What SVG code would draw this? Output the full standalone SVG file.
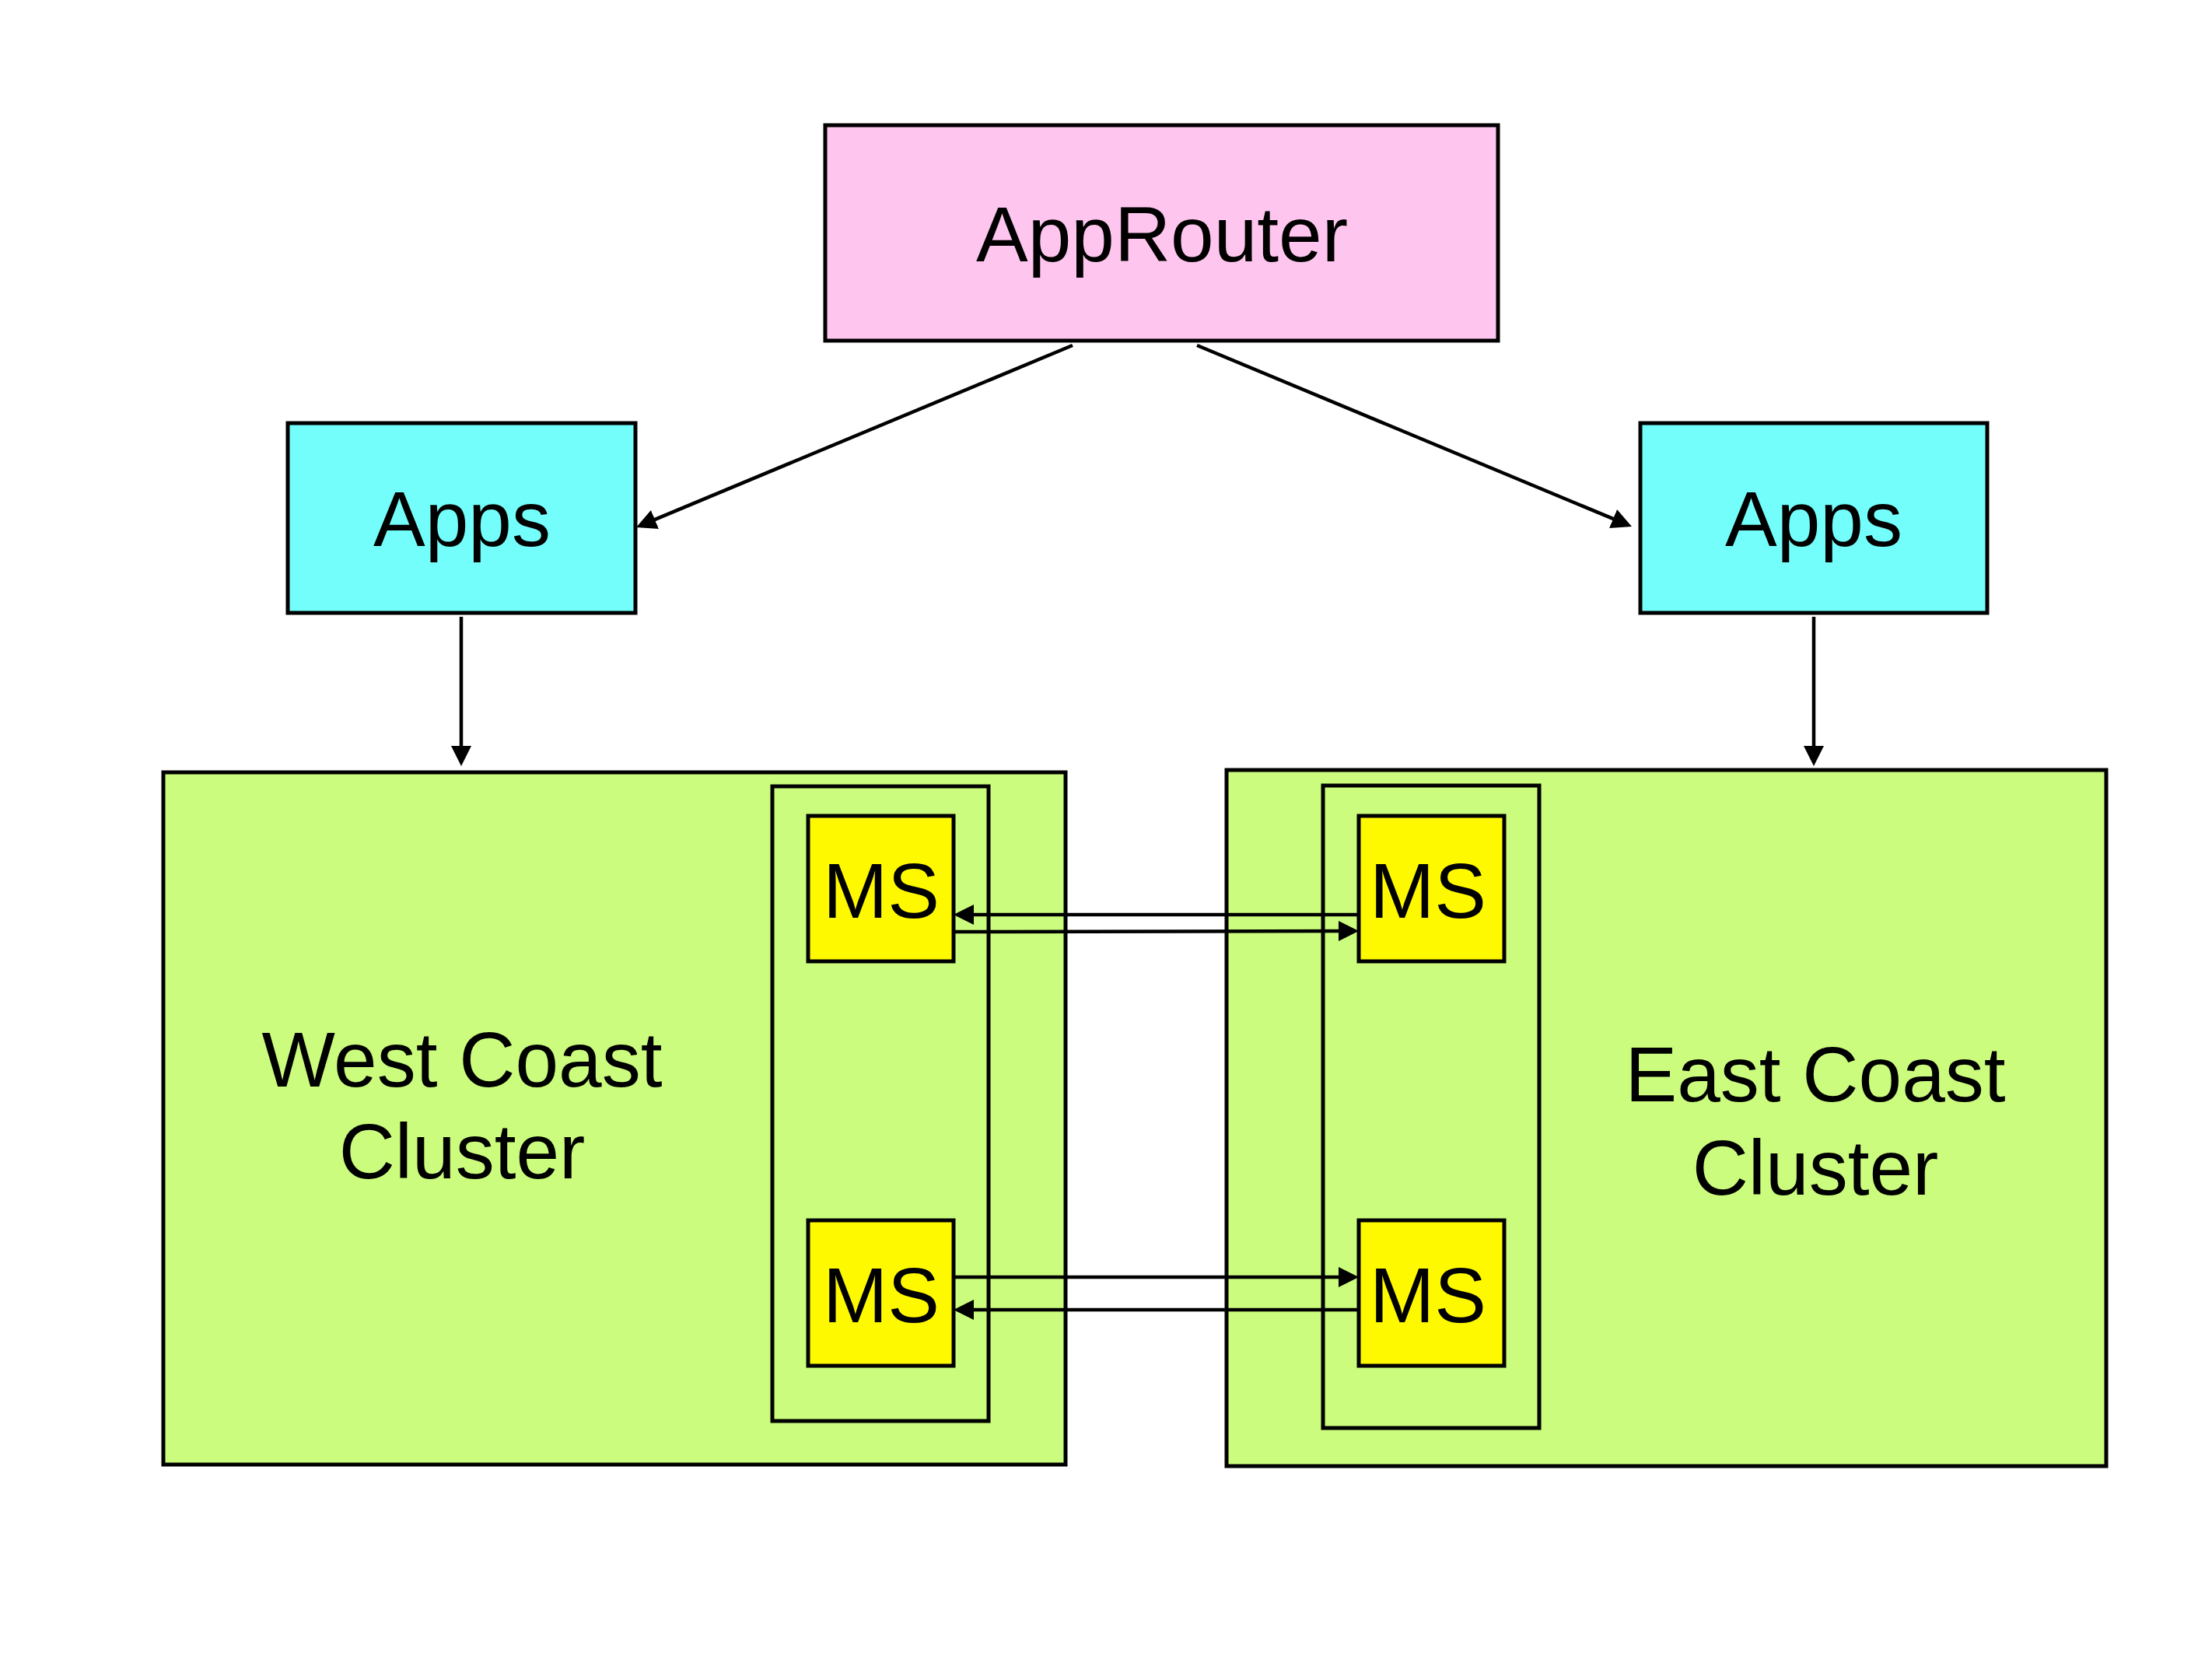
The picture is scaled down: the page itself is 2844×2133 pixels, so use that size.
<svg xmlns="http://www.w3.org/2000/svg" width="2844" height="2133" viewBox="0 0 2844 2133">
<style>
.box{stroke:#000;stroke-width:5}
.router{fill:#FEC6EE}
.apps{fill:#74FEFB}
.cluster{fill:#CBFC7D}
.ms{fill:#FFF900}
.lbl{font-family:"Liberation Sans",Arial,sans-serif;font-size:100px;fill:#000;text-anchor:middle}
.conn{stroke:#000;stroke-width:4.5;fill:none;marker-end:url(#arr)}
</style>
<defs>
<marker id="arr" markerUnits="userSpaceOnUse" markerWidth="26" markerHeight="26" viewBox="0 0 26 26" refX="16" refY="13" orient="auto">
<path d="M0,0 L26,13 L0,26 z" fill="#000"/>
</marker>
</defs>
<rect width="2844" height="2133" fill="#fff"/>
<g id="approuter">
<rect class="box router" x="1061" y="161" width="865" height="277"/>
<text class="lbl" x="1494" y="336">AppRouter</text>
</g>
<g id="apps-west">
<rect class="box apps" x="370" y="544" width="447" height="244"/>
<text class="lbl" x="594" y="702">Apps</text>
</g>
<g id="apps-east">
<rect class="box apps" x="2109" y="544" width="446" height="244"/>
<text class="lbl" x="2332" y="702">Apps</text>
</g>
<g id="west-cluster">
<rect class="box cluster" x="210" y="993" width="1160" height="890"/>
<text class="lbl" x="594" y="1397">West Coast</text>
<text class="lbl" x="594" y="1515">Cluster</text>
</g>
<g id="east-cluster">
<rect class="box cluster" x="1577" y="990" width="1131" height="895"/>
<text class="lbl" x="2334" y="1416">East Coast</text>
<text class="lbl" x="2334" y="1536">Cluster</text>
</g>
<g id="west-group">
<rect class="box cluster" x="993" y="1011" width="278" height="816"/>
</g>
<g id="east-group">
<rect class="box cluster" x="1701" y="1010" width="278" height="826"/>
</g>
<g id="ms-west-top">
<rect class="box ms" x="1039" y="1049" width="187" height="187"/>
<text class="lbl" x="1133" y="1180">MS</text>
</g>
<g id="ms-west-bottom">
<rect class="box ms" x="1039" y="1569" width="187" height="187"/>
<text class="lbl" x="1133" y="1700">MS</text>
</g>
<g id="ms-east-top">
<rect class="box ms" x="1747" y="1049" width="187" height="187"/>
<text class="lbl" x="1836" y="1180">MS</text>
</g>
<g id="ms-east-bottom">
<rect class="box ms" x="1747" y="1569" width="187" height="187"/>
<text class="lbl" x="1836" y="1700">MS</text>
</g>
<g id="connectors">
<line class="conn" x1="1379" y1="444" x2="827.2" y2="674.1"/>
<line class="conn" x1="1539" y1="444" x2="2088.8" y2="673.2"/>
<line class="conn" x1="593" y1="793" x2="593" y2="975"/>
<line class="conn" x1="2332" y1="793" x2="2332" y2="975"/>
<line class="conn" x1="1747" y1="1176" x2="1236" y2="1176"/>
<line class="conn" x1="1226" y1="1198" x2="1737" y2="1197"/>
<line class="conn" x1="1226" y1="1642" x2="1737" y2="1642"/>
<line class="conn" x1="1747" y1="1684" x2="1236" y2="1684"/>
</g>
</svg>
